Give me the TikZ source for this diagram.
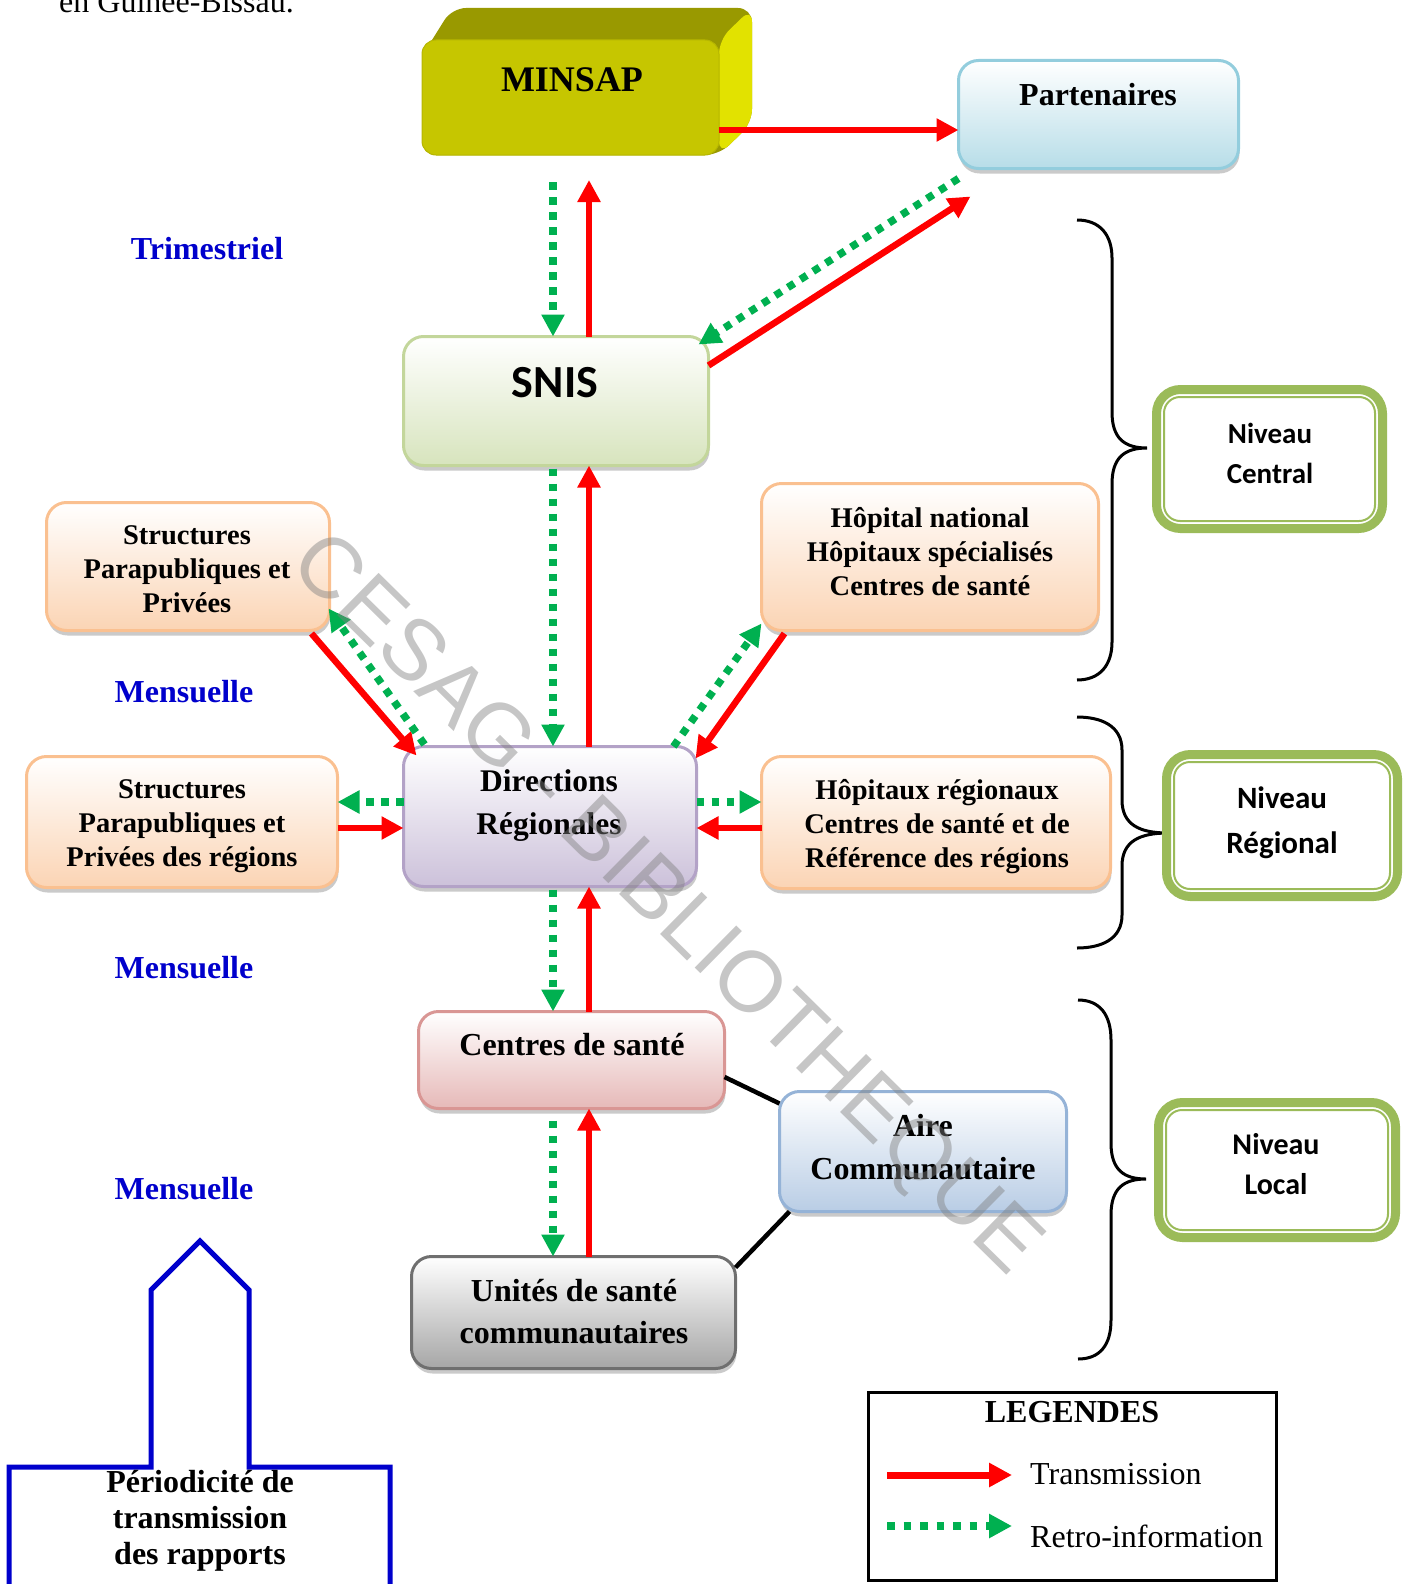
\documentclass[tikz,border=0pt]{standalone}
\usepackage{fontspec}
\setmainfont{Liberation Serif}
\newfontfamily\calib{Carlito}
\newfontfamily\wmfont{Liberation Sans}
\usetikzlibrary{arrows.meta,shadows,calc}
\definecolor{tred}{HTML}{FF0000}
\definecolor{rgreen}{HTML}{00B050}
\definecolor{lblue}{HTML}{0000CC}
\definecolor{ngreen}{HTML}{9BBB59}
\definecolor{mtop}{HTML}{999900}
\definecolor{mside}{HTML}{E2E200}
\definecolor{mfront}{HTML}{C6C600}
\definecolor{partB}{HTML}{B7DDE8}
\definecolor{partD}{HTML}{93CDDD}
\definecolor{snisB}{HTML}{D7E4BD}
\definecolor{snisD}{HTML}{C3D69B}
\definecolor{orB}{HTML}{FBD4B4}
\definecolor{orD}{HTML}{FAC090}
\definecolor{dirB}{HTML}{CCC1DA}
\definecolor{dirD}{HTML}{B3A2C7}
\definecolor{csB}{HTML}{E6B9B8}
\definecolor{csD}{HTML}{D99694}
\definecolor{aiB}{HTML}{B9CDE5}
\definecolor{aiD}{HTML}{95B3D7}
\definecolor{usB}{HTML}{A6A6A6}
\definecolor{usD}{HTML}{6F6F6F}
\begin{document}
\begin{tikzpicture}[x=1pt, y=-1pt,
  rbox/.style={rectangle, rounded corners=20pt, line width=3pt, inner sep=0pt, outer sep=0pt,
    drop shadow={shadow xshift=1pt, shadow yshift=-5pt, opacity=0.35, fill=black!60}},
  bt/.style={font=\bfseries\fontsize{28.5}{34}\selectfont, align=center, inner sep=0pt},
  lbl/.style={font=\bfseries\fontsize{32}{36}\selectfont, text=lblue, inner sep=0pt},
  niv/.style={rectangle, draw=ngreen, line width=9pt, rounded corners=24pt, fill=white, inner sep=0pt, outer sep=0pt},
  nivin/.style={draw=ngreen, line width=2pt, rounded corners=16pt},
  tr/.style={draw=tred, line width=6.5pt, -{Triangle[length=22pt,width=22pt]}},
  rt/.style={draw=rgreen, line width=7.5pt, dash pattern=on 7.5pt off 7.5pt, -{Triangle[length=22pt,width=22pt]}},
  conn/.style={draw=black, line width=4.5pt},
  brace/.style={draw=black, line width=3pt}]
\useasboundingbox (0,0) rectangle (1410,1584);
\clip (0,0) rectangle (1410,1584);

% partially visible heading
\node[anchor=base west, font=\fontsize{32}{36}\selectfont, inner sep=0pt] (head) at (59,13) {en Guinée-Bissau.};

% MINSAP 3D box
\fill[mtop, rounded corners=14pt] (422,56) -- (452,8) -- (752,8) -- (752,123) -- (719,155) -- (422,155) -- cycle;
\fill[mside, rounded corners=14pt] (719,40) -- (752,8) -- (752,123) -- (719,155) -- cycle;
\node[rectangle, fill=mfront, draw=mfront!92!black, line width=1pt, rounded corners=14pt, inner sep=0pt, outer sep=0pt,
  minimum width=297, minimum height=115] (minsap) at (570.5,97.5) {};
\node[font=\bfseries\fontsize{36}{40}\selectfont, inner sep=0pt] (tminsap) at (572,80) {MINSAP};

% Boxes
\node[rbox, draw=partD, top color=white, bottom color=partB, minimum width=280, minimum height=108] (part) at (1098.5,114.5) {};
\node[font=\bfseries\fontsize{32}{36}\selectfont, inner sep=0pt] (tpart) at (1098,95) {Partenaires};

\node[rbox, draw=snisD, top color=white, bottom color=snisB, minimum width=305, minimum height=129] (snis) at (556,401) {};
\node[font=\calib\bfseries\fontsize{46}{50}\selectfont, inner sep=0pt] (tsnis) at (555,383) {SNIS};

\node[rbox, draw=orD, top color=white, bottom color=orB, minimum width=283, minimum height=128] (sa) at (188,566.5) {};
\node[bt] (tsa) at (187,569) {Structures\\Parapubliques et\\Privées};

\node[rbox, draw=orD, top color=white, bottom color=orB, minimum width=337, minimum height=147] (hn) at (930,557) {};
\node[bt] (thn) at (930,552) {Hôpital national\\Hôpitaux spécialisés\\Centres de santé};

\node[rbox, draw=orD, top color=white, bottom color=orB, minimum width=311, minimum height=131] (sb) at (182,822) {};
\node[bt] (tsb) at (182,826) {Structures\\Parapubliques et\\Privées des régions};

\node[rbox, draw=orD, top color=white, bottom color=orB, minimum width=349, minimum height=132] (hr) at (936,822.5) {};
\node[bt] (thr) at (937,827) {Hôpitaux régionaux\\Centres de santé et de\\Référence des régions};

\node[rbox, draw=dirD, top color=white, bottom color=dirB, minimum width=293, minimum height=140] (dir) at (550,816.5) {};
\node[font=\bfseries\fontsize{31.5}{43}\selectfont, align=center, inner sep=0pt] (tdir) at (549,806) {Directions\\Régionales};

\node[rbox, draw=csD, top color=white, bottom color=csB, minimum width=306, minimum height=97] (cs) at (571.5,1060) {};
\node[font=\bfseries\fontsize{32}{40}\selectfont, inner sep=0pt] (tcs) at (572,1045) {Centres de santé};

\node[rbox, draw=aiD, top color=white, bottom color=aiB, minimum width=287, minimum height=120] (aire) at (923,1151.5) {};
\node[font=\bfseries\fontsize{32}{43}\selectfont, align=center, inner sep=0pt] (tai) at (923,1147) {Aire\\Communautaire};

\node[rbox, draw=usD, top color=white, bottom color=usB, minimum width=324, minimum height=112] (us) at (573.5,1312.5) {};
\node[font=\bfseries\fontsize{32}{42}\selectfont, align=center, inner sep=0pt] (tus) at (574,1312) {Unités de santé\\communautaires};

% Periodicity labels
\node[lbl] (tri) at (207,249) {Trimestriel};
\node[lbl] (men1) at (184,692) {Mensuelle};
\node[lbl] (men2) at (184,968) {Mensuelle};
\node[lbl] (men3) at (184,1189) {Mensuelle};

% Braces
\draw[brace] (1077,220) .. controls (1100,220) and (1112,235) .. (1112,258) -- (1112,412)
  .. controls (1112,438) and (1124,448) .. (1147,448) .. controls (1124,448) and (1112,458) .. (1112,484)
  -- (1112,642) .. controls (1112,665) and (1100,680) .. (1077,680);
\draw[brace] (1077,717) .. controls (1100,717) and (1122,725) .. (1122,750) -- (1122,800)
  .. controls (1122,825) and (1140,833) .. (1168,833) .. controls (1140,833) and (1122,841) .. (1122,866)
  -- (1122,915) .. controls (1122,940) and (1100,948) .. (1077,948);
\draw[brace] (1078,1000) .. controls (1100,1000) and (1111,1015) .. (1111,1040) -- (1111,1143)
  .. controls (1111,1170) and (1124,1179) .. (1146,1179) .. controls (1124,1179) and (1111,1188) .. (1111,1215)
  -- (1111,1320) .. controls (1111,1345) and (1100,1359) .. (1078,1359);

% Niveau boxes
\node[niv, minimum width=226, minimum height=139] (nc) at (1269.5,459) {};
\draw[nivin] ($(nc.north west)+(7.5,7.5)$) rectangle ($(nc.south east)+(-7.5,-7.5)$);
\node[font=\calib\bfseries\fontsize{29}{40}\selectfont, align=center, inner sep=0pt] (tnc) at (1270,453) {Niveau\\Central};

\node[niv, minimum width=231, minimum height=142] (nr) at (1282,825.5) {};
\draw[nivin] ($(nr.north west)+(7.5,7.5)$) rectangle ($(nr.south east)+(-7.5,-7.5)$);
\node[font=\calib\bfseries\fontsize{31}{45}\selectfont, align=center, inner sep=0pt] (tnr) at (1282,823) {Niveau\\Régional};

\node[niv, minimum width=237, minimum height=135] (nl) at (1277,1170) {};
\draw[nivin] ($(nl.north west)+(7.5,7.5)$) rectangle ($(nl.south east)+(-7.5,-7.5)$);
\node[font=\calib\bfseries\fontsize{30}{40}\selectfont, align=center, inner sep=0pt] (tnl) at (1276,1164) {Niveau\\Local};

% Connectors
\coordinate (m1) at ($(minsap.south east)+(0,-25)$);
\draw[tr] (m1) -- (m1 -| part.west);
\draw[rt] ($(minsap.south)+(-17.5,27)$) -- ($(snis.north)+(-3,0)$);
\draw[tr] ($(snis.north)+(33,0)$) -- ($(minsap.south)+(18.5,25)$);
\draw[rt] ($(part.south west)+(0,10)$) -- ($(snis.north east)+(-10,8)$);
\draw[tr] ($(snis.north east)+(0,29)$) -- ($(part.south west)+(12,28)$);
\draw[rt] ($(snis.south)+(-3,3)$) -- ($(dir.north)+(3,0)$);
\draw[tr] ($(dir.north)+(39,0)$) -- ($(snis.south)+(33,0)$);
\draw[tr] ($(sa.south east)+(-18,3)$) -- ($(dir.north west)+(13,9)$);
\draw[rt] ($(dir.north west)+(21,-2)$) -- ($(sa.south east)+(-1,-22)$);
\draw[tr] ($(hn.south west)+(23,3)$) -- ($(dir.north east)+(-1,12)$);
\draw[rt] ($(dir.north east)+(-23,0)$) -- ($(hn.south west)+(0,-7)$);
\coordinate (g1) at ($(dir.west)+(0,-14.5)$);
\draw[rt] (g1) -- (g1 -| sb.east);
\coordinate (r1) at ($(dir.west)+(0,11.5)$);
\draw[tr] (r1 -| sb.east) -- (r1);
\coordinate (g2) at ($(dir.east)+(0,-14.5)$);
\draw[rt] (g2) -- (g2 -| hr.west);
\coordinate (r2) at ($(dir.east)+(0,11.5)$);
\draw[tr] (r2 -| hr.west) -- (r2);
\draw[rt] ($(dir.south)+(3,3)$) -- ($(cs.north)+(-18.5,0)$);
\draw[tr] ($(cs.north)+(17.5,0)$) -- ($(dir.south)+(39,0)$);
\draw[rt] ($(cs.south)+(-18.5,12)$) -- ($(us.north)+(-20.5,0)$);
\draw[tr] ($(us.north)+(15.5,0)$) -- ($(cs.south)+(17.5,0)$);
\draw[conn] ($(cs.east)+(0,17)$) -- ($(aire.north west)+(0,12)$);
\draw[conn] ($(us.north east)+(0,11)$) -- ($(aire.south west)+(10,0)$);

% Legend
\node[rectangle, draw=black, line width=2.5pt, minimum width=408, minimum height=188, inner sep=0pt, outer sep=0pt] (leg) at (1072.5,1486.5) {};
\node[font=\bfseries\fontsize{32}{36}\selectfont, inner sep=0pt] (legt) at (1072,1412) {LEGENDES};
\coordinate (l1a) at (887,1475);
\coordinate (l1b) at (1012,1475);
\draw[tr, line width=7pt, -{Triangle[length=23pt,width=23pt]}] (l1a) -- (l1b);
\coordinate (l2a) at (887,1526);
\coordinate (l2b) at (1012,1526);
\draw[rt, line width=8pt, dash pattern=on 7.5pt off 9pt, -{Triangle[length=23pt,width=23pt]}] (l2a) -- (l2b);
\node[anchor=base west, font=\fontsize{32}{36}\selectfont, inner sep=0pt] (ltr) at (1030,1484) {Transmission};
\node[anchor=base west, font=\fontsize{32}{36}\selectfont, inner sep=0pt] (lrt) at (1030,1547) {Retro-information};

% Periodicity pentagon arrow
\draw[lblue, line width=5pt, line join=miter] (9,1600) -- (9,1467) -- (151,1467) -- (151,1290) -- (200,1241) -- (249,1290) -- (249,1467) -- (390,1467) -- (390,1600);
\node[font=\bfseries\fontsize{32}{36}\selectfont, align=center, inner sep=0pt] (per) at (200,1521) {Périodicité de\\transmission\\des rapports};

% Watermark
\node[font=\wmfont\fontsize{86}{86}\selectfont, text=gray, opacity=0.45, rotate=-44.6, inner sep=0pt] (wm) at (664,907) {CESAG - BIBLIOTHEQUE};
\end{tikzpicture}
\end{document}
